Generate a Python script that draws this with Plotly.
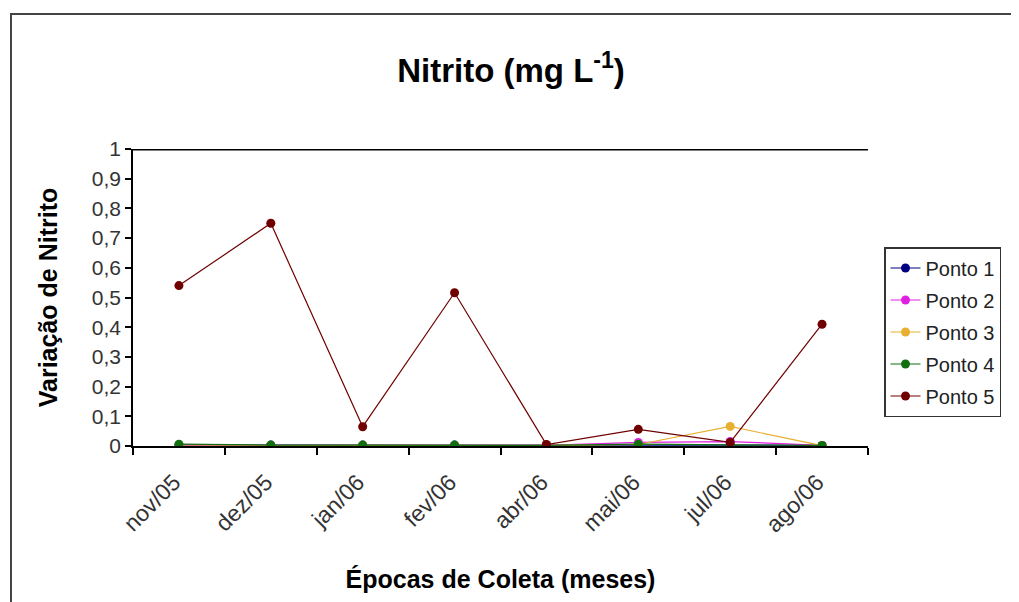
import plotly.graph_objects as go

categories = ["nov/05", "dez/05", "jan/06", "fev/06", "abr/06", "mai/06", "jul/06", "ago/06"]
ponto1 = [0.003, 0.003, 0.003, 0.003, 0.003, 0.005, 0.003, 0.002]
ponto2 = [0.002, 0.002, 0.002, 0.002, 0.002, 0.012, 0.015, 0.002]
ponto3 = [0.000, 0.002, 0.002, 0.002, 0.002, 0.005, 0.066, 0.001]
ponto4 = [0.006, 0.003, 0.003, 0.003, 0.002, 0.006, 0.003, 0.002]
ponto5 = [0.54, 0.75, 0.065, 0.516, 0.005, 0.056, 0.012, 0.41]
yticks = [0, 0.1, 0.2, 0.3, 0.4, 0.5, 0.6, 0.7, 0.8, 0.9, 1]
yticklabels = ["0", "0,1", "0,2", "0,3", "0,4", "0,5", "0,6", "0,7", "0,8", "0,9", "1"]

series = [
    ("Ponto 1", ponto1, "#000080"),
    ("Ponto 2", ponto2, "#E020E0"),
    ("Ponto 3", ponto3, "#E8B030"),
    ("Ponto 4", ponto4, "#107010"),
    ("Ponto 5", ponto5, "#700000"),
]

fig = go.Figure()
for name, vals, col in series:
    fig.add_trace(go.Scatter(
        x=categories, y=vals, name=name, mode="lines+markers",
        line=dict(color=col, width=1.2),
        marker=dict(color=col, size=9, symbol="circle"),
        legendgroup=name,
    ))

# plot area in page = x 133..868, y 149..446 (page has an 8px body margin)
fig.update_layout(
    width=1019, height=602,
    paper_bgcolor="white", plot_bgcolor="white",
    margin=dict(l=125, r=159, t=141, b=164, autoexpand=False),
    separators=",.",
    font=dict(family="Arial, Liberation Sans", color="#222222"),
    title=dict(
        text="<b>Nitrito (mg L<sup>-1</sup>)</b>",
        x=(511 - 133) / 735, xanchor="center", xref="paper", y=0.897, yanchor="middle",
        font=dict(size=33, color="black", family="Arial, Liberation Sans"),
    ),
    showlegend=True,
    legend=dict(
        x=(884 - 133) / 735, xanchor="left", y=(446 - 247) / 297, yanchor="top",
        bordercolor="#333333", borderwidth=1.5, bgcolor="white",
        font=dict(size=20, color="#222222"),
        tracegroupgap=3,
    ),
    xaxis=dict(
        type="category", range=[-0.5, 7.5],
        showgrid=False, zeroline=False,
        showline=True, linecolor="black", linewidth=1.5,
        ticks="outside", ticklen=7, tickcolor="black", tickwidth=1.5,
        tickson="boundaries",
        ticklabelstandoff=12, ticklabelshift=-5,
        tickangle=-45, tickfont=dict(size=23, color="#333333"),
        title=dict(text="<b>Épocas de Coleta (meses)</b>", font=dict(size=25, color="black"), standoff=34),
    ),
    yaxis=dict(
        range=[0, 1], tickvals=yticks, ticktext=yticklabels,
        showgrid=False, zeroline=False,
        showline=True, linecolor="black", linewidth=1.5,
        ticks="outside", ticklen=6, tickcolor="black", tickwidth=1.5,
        tickfont=dict(size=21, color="#333333"),
        title=dict(text="<b>Variação de Nitrito</b>", font=dict(size=25, color="black"), standoff=27),
    ),
)

# top gridline at 1
fig.add_shape(type="line", xref="paper", yref="y", x0=0, x1=1, y0=1, y1=1,
              line=dict(color="black", width=3))
# chart area border (page x=11, y=14)
fig.add_shape(type="rect", xref="paper", yref="paper",
              x0=(11 - 133) / 735, x1=(1060 - 133) / 735,
              y0=(446 - 660) / 297, y1=(446 - 14) / 297,
              line=dict(color="#444444", width=2))

fig.write_html("out.html")
